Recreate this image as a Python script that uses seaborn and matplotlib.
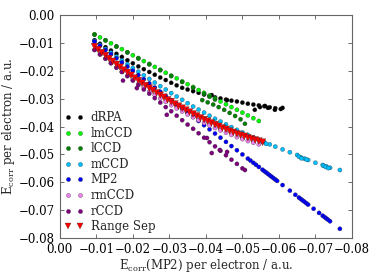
import numpy as np
import pandas as pd
import matplotlib
matplotlib.use('Agg')
import matplotlib.pyplot as plt
import seaborn as sns

# MP2 correlation energy per electron (x), shared grid for most methods
grid = [-0.0095, -0.011, -0.0125, -0.014, -0.0155, -0.017, -0.0185, -0.020, -0.0215, -0.023,
        -0.0245, -0.026, -0.0275, -0.029, -0.0305, -0.032, -0.0335, -0.035, -0.0365, -0.038,
        -0.0395, -0.041, -0.0425, -0.044, -0.0455, -0.047, -0.0485, -0.050, -0.0515, -0.053, -0.0545]

drpa_x = grid + [-0.056, -0.0575, -0.059, -0.0605,
                 -0.0416, -0.0458, -0.0534, -0.0548, -0.0562, -0.057, -0.0589, -0.061]
drpa_y = [-0.0090, -0.0103, -0.0115, -0.0127, -0.0139, -0.0150, -0.0162, -0.0173, -0.0184, -0.0194,
          -0.0204, -0.0214, -0.0224, -0.0233, -0.0243, -0.0252, -0.0261, -0.0267, -0.0273, -0.0279,
          -0.0285, -0.0290, -0.0295, -0.0299, -0.0303, -0.0307, -0.0310, -0.0314, -0.0318, -0.0321, -0.0324,
          -0.0327, -0.0331, -0.0334, -0.0337,
          -0.0287, -0.0305, -0.0340, -0.0330, -0.0326, -0.0333, -0.0340, -0.0333]

lmccd_x = grid
lmccd_y = [-0.0069, -0.0080, -0.0090, -0.0101, -0.0112, -0.0122, -0.0133, -0.0144, -0.0154, -0.0165,
           -0.0175, -0.0186, -0.0196, -0.0207, -0.0217, -0.0227, -0.0238, -0.0248, -0.0258, -0.0269,
           -0.0279, -0.0289, -0.0299, -0.0310, -0.0320, -0.0330, -0.0340, -0.0350, -0.0360, -0.0370, -0.0380]

lccd_x = [-0.0095, -0.0125, -0.0155, -0.0185, -0.0215, -0.0245, -0.0275, -0.0305, -0.0335, -0.0365,
          -0.0395, -0.041, -0.0425,
          -0.039, -0.0405, -0.042, -0.0435, -0.045, -0.0465, -0.048, -0.0495, -0.0507]
lccd_y = [-0.0070, -0.0091, -0.0113, -0.0134, -0.0156, -0.0177, -0.0198, -0.0219, -0.0240, -0.0261,
          -0.0283, -0.0293, -0.0303,
          -0.0305, -0.0313, -0.0321, -0.0330, -0.0340, -0.0351, -0.0362, -0.0374, -0.0390]

mccd_x = grid + [-0.056, -0.0575, -0.059, -0.061, -0.063, -0.065, -0.066, -0.067, -0.068, -0.070,
                 -0.072, -0.073, -0.074, -0.0767,
                 -0.0555, -0.0565, -0.0655, -0.0662, -0.0675, -0.0722, -0.0728, -0.0735]
mccd_y = [-0.0093, -0.0107, -0.0121, -0.0135, -0.0149, -0.0163, -0.0176, -0.0190, -0.0203, -0.0216,
          -0.0229, -0.0242, -0.0255, -0.0267, -0.0280, -0.0292, -0.0304, -0.0316, -0.0328, -0.0339,
          -0.0350, -0.0361, -0.0372, -0.0382, -0.0392, -0.0402, -0.0412, -0.0421, -0.0430, -0.0439, -0.0448,
          -0.0456, -0.0464, -0.0472, -0.0482, -0.0492, -0.0502, -0.0510, -0.0515, -0.0520, -0.0530,
          -0.0538, -0.0543, -0.0548, -0.0556,
          -0.0455, -0.0462, -0.0508, -0.0514, -0.0518, -0.0541, -0.0545, -0.0549]

mp2_x = grid + [-0.0522, -0.0537, -0.0555, -0.056, -0.0565, -0.057, -0.0575, -0.058, -0.0585, -0.059,
                -0.0595, -0.061, -0.063, -0.0645, -0.0655, -0.066, -0.0665, -0.067, -0.0675, -0.068,
                -0.0695, -0.071, -0.072, -0.0725, -0.073, -0.0735, -0.074, -0.0767]
mp2_y = list(mp2_x)

rmccd_x = grid
rmccd_y = [-0.0125, -0.0141, -0.0157, -0.0173, -0.0189, -0.0204, -0.0218, -0.0233, -0.0247, -0.0260,
           -0.0274, -0.0287, -0.0299, -0.0311, -0.0323, -0.0335, -0.0346, -0.0357, -0.0367, -0.0377,
           -0.0387, -0.0396, -0.0405, -0.0414, -0.0422, -0.0430, -0.0438, -0.0445, -0.0452, -0.0458, -0.0464]

rccd_x = grid[:28] + [-0.0173, -0.0211, -0.0293, -0.0403, -0.0416, -0.0438, -0.0458, -0.0507]
rccd_y = [-0.0125, -0.0141, -0.0156, -0.0172, -0.0188, -0.0204, -0.0219, -0.0235, -0.0251, -0.0267,
          -0.0282, -0.0298, -0.0314, -0.0330, -0.0345, -0.0361, -0.0377, -0.0393, -0.0408, -0.0424,
          -0.0440, -0.0456, -0.0471, -0.0487, -0.0503, -0.0519, -0.0534, -0.0550,
          -0.0235, -0.0262, -0.0358, -0.0441, -0.0495, -0.0484, -0.0491, -0.0556]

rsep_x = [-0.0095, -0.0105, -0.0115, -0.0125, -0.0135, -0.0145, -0.0155, -0.0165, -0.0175, -0.0185,
          -0.0195, -0.0205, -0.0215, -0.0225, -0.0235, -0.0245, -0.0255, -0.0265, -0.0275, -0.0285,
          -0.0295, -0.0305, -0.0315, -0.0325, -0.0335, -0.0345, -0.0355, -0.0365, -0.0375, -0.0385,
          -0.0395, -0.0405, -0.0415, -0.0425, -0.0435, -0.0445, -0.0455, -0.0465, -0.0475, -0.0485,
          -0.0495, -0.0505, -0.0515, -0.0525, -0.0535, -0.0545, -0.0555]
rsep_y = [-0.0113, -0.0124, -0.0135, -0.0145, -0.0156, -0.0166, -0.0177, -0.0187, -0.0197, -0.0206,
          -0.0216, -0.0226, -0.0235, -0.0244, -0.0253, -0.0262, -0.0270, -0.0279, -0.0287, -0.0295,
          -0.0304, -0.0311, -0.0319, -0.0327, -0.0334, -0.0341, -0.0348, -0.0355, -0.0362, -0.0369,
          -0.0375, -0.0381, -0.0387, -0.0393, -0.0399, -0.0405, -0.0410, -0.0416, -0.0421, -0.0426,
          -0.0431, -0.0435, -0.0440, -0.0444, -0.0448, -0.0452, -0.0456]

methods = ['dRPA', 'lmCCD', 'lCCD', 'mCCD', 'MP2', 'rmCCD', 'rCCD', 'Range Sep']
colors = ['black', 'lime', 'green', 'deepskyblue', 'blue', 'violet', 'purple', 'red']

series = [(drpa_x, drpa_y), (lmccd_x, lmccd_y), (lccd_x, lccd_y), (mccd_x, mccd_y),
          (mp2_x, mp2_y), (rmccd_x, rmccd_y), (rccd_x, rccd_y), (rsep_x, rsep_y)]
frames = []
for name, (xs, ys) in zip(methods, series):
    frames.append(pd.DataFrame({'mp2': xs, 'ecorr': ys, 'method': name}))
df = pd.concat(frames, ignore_index=True)

sns.set_style('ticks')
plt.rcParams['font.family'] = ['DejaVu Serif']
plt.rcParams['mathtext.fontset'] = 'dejavuserif'
plt.rcParams['xtick.direction'] = 'in'
plt.rcParams['ytick.direction'] = 'in'
plt.rcParams['xtick.top'] = True
plt.rcParams['ytick.right'] = True

fig = plt.figure(figsize=(3.74, 2.80), dpi=100)
ax = fig.add_axes([0.160, 0.150, 0.781, 0.796])

pal = dict(zip(methods, colors))
mk = {m: 'o' for m in methods}
mk['Range Sep'] = 'v'
sizes = {m: 9 for m in methods}
sizes['Range Sep'] = 24
sns.scatterplot(data=df, x='mp2', y='ecorr', hue='method', style='method', size='method',
                palette=pal, markers=mk, sizes=sizes, hue_order=methods,
                edgecolor='#222222', linewidth=0.2, ax=ax, legend='full')

ax.set_xlim(0, -0.08)
ax.set_ylim(-0.08, 0)
ticks = [0, -0.01, -0.02, -0.03, -0.04, -0.05, -0.06, -0.07, -0.08]
tick_labels = ['0.00', '\u22120.01', '\u22120.02', '\u22120.03', '\u22120.04',
               '\u22120.05', '\u22120.06', '\u22120.07', '\u22120.08']
ax.set_xticks(ticks)
ax.set_yticks(ticks)
ax.set_xticklabels(tick_labels)
ax.set_yticklabels(tick_labels)
ax.tick_params(labelsize=8.5, length=3, width=0.6, colors='#555555', labelcolor='black')
for s in ax.spines.values():
    s.set_color('#666666')
    s.set_linewidth(0.8)
ax.set_xlabel(r'E$_{\rm corr}$(MP2) per electron / a.u.', fontsize=8.5, labelpad=1)
ax.set_ylabel(r'E$_{\rm corr}$ per electron / a.u.', fontsize=8.5, labelpad=1)

handles, labels = ax.get_legend_handles_labels()
ax.legend(handles, labels, loc='lower left', frameon=False, numpoints=2, fontsize=8.5,
          labelspacing=0.22, handlelength=1.6, handletextpad=0.6, borderaxespad=0.0)

fig.savefig('out.png', dpi=100)
